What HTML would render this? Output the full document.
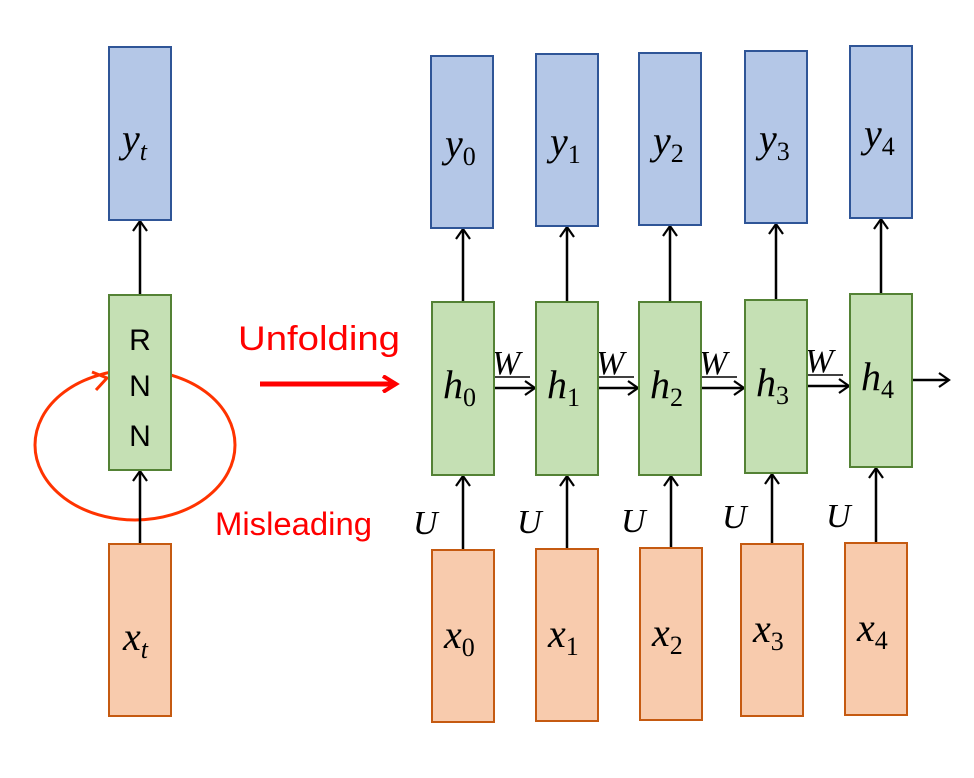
<!DOCTYPE html>
<html><head><meta charset="utf-8"><style>
html,body{margin:0;padding:0;background:#fff;}
svg{display:block;}
.m{font-family:"Liberation Serif",serif;font-style:italic;font-size:40px;fill:#000;}
.s{font-family:"Liberation Serif",serif;font-style:normal;font-size:26px;fill:#000;}
</style></head><body>
<svg width="974" height="778" viewBox="0 0 974 778">
<defs>
<marker id="ah" markerWidth="16" markerHeight="16" refX="11" refY="8" orient="auto" markerUnits="userSpaceOnUse">
<path d="M1,1 L11,8 L1,15" fill="none" stroke="#000" stroke-width="2.2"/></marker>
<marker id="ahr" markerWidth="18" markerHeight="18" refX="14" refY="9" orient="auto" markerUnits="userSpaceOnUse">
<path d="M1,1 L14,9 L1,17" fill="none" stroke="#ff0000" stroke-width="4"/></marker>
</defs>
<ellipse cx="135" cy="445" rx="100" ry="75" fill="none" stroke="#ff3300" stroke-width="3"/>
<path d="M92,372 L107,378 L96,390" fill="none" stroke="#ff3300" stroke-width="3"/>
<line x1="140" y1="295" x2="140" y2="221" stroke="#000" stroke-width="2.5" marker-end="url(#ah)"/>
<line x1="140" y1="544" x2="140" y2="471" stroke="#000" stroke-width="2.5" marker-end="url(#ah)"/>
<rect x="109" y="47" width="62" height="173" fill="#b4c7e7" stroke="#2f5597" stroke-width="2"/>
<text x="122" y="152" class="m">y<tspan class="s" dy="8" style="font-style:italic">t</tspan></text>
<rect x="109" y="295" width="62" height="175" fill="#c5e0b4" stroke="#548235" stroke-width="2"/>
<text x="140" y="350" text-anchor="middle" font-family="Liberation Sans,sans-serif" font-size="30">R</text>
<text x="140" y="396" text-anchor="middle" font-family="Liberation Sans,sans-serif" font-size="30">N</text>
<text x="140" y="446" text-anchor="middle" font-family="Liberation Sans,sans-serif" font-size="30">N</text>
<rect x="109" y="544" width="62" height="172" fill="#f8cbad" stroke="#c55a11" stroke-width="2"/>
<text x="123" y="650" class="m">x<tspan class="s" dy="8" style="font-style:italic">t</tspan></text>
<text x="238" y="350" fill="#ff0000" font-family="Liberation Sans,sans-serif" font-size="34" textLength="162" lengthAdjust="spacingAndGlyphs">Unfolding</text>
<line x1="260" y1="384" x2="396" y2="384" stroke="#ff0000" stroke-width="5" marker-end="url(#ahr)"/>
<text x="215" y="535" fill="#ff0000" font-family="Liberation Sans,sans-serif" font-size="32" textLength="157" lengthAdjust="spacingAndGlyphs">Misleading</text>
<g id="unrolled"></g>
</svg>
<script>
const steps=[0,1,2,3,4];
const yBox=[[431,56],[536,54],[639,53],[745,51],[850,46]];
const hBox=[[432,302],[536,302],[639,302],[745,300],[850,294]];
const xBox=[[432,550],[536,549],[640,548],[741,544],[845,543]];
const NS="http://www.w3.org/2000/svg";
const g=document.getElementById('unrolled');
function el(t,a){const e=document.createElementNS(NS,t);for(const k in a)e.setAttribute(k,a[k]);g.appendChild(e);return e;}
function label(x,y,v,i,name){
 const t=el('text',{x:x,y:y,class:'m'});
 
 
 t.textContent=v;
 const s=document.createElementNS(NS,'tspan');s.setAttribute('class','s');s.setAttribute('dy','8');s.textContent=i;t.appendChild(s);
}
steps.forEach(i=>{
 const [yx,yy]=yBox[i],[hx,hy]=hBox[i],[xx,xy]=xBox[i];
 const hc=hx+31, xc=xx+31;
 let a=el('line',{x1:hc,y1:hy,x2:hc,y2:yy+173,stroke:'#000','stroke-width':2.5,'marker-end':'url(#ah)'});
 
 
 a=el('line',{x1:xc,y1:xy,x2:xc,y2:hy+174,stroke:'#000','stroke-width':2.5,'marker-end':'url(#ah)'});
 
 
 const tu=el('text',{x:xc-50,y:xy-16,class:'m'});
 
 
 tu.style.fontSize='34px';tu.textContent='U';
 const nx=(i<4)?hBox[i+1][0]:950;
 a=el('line',{x1:hx+62,y1:hy+86,x2:nx-1,y2:hy+86,stroke:'#000','stroke-width':2.5,'marker-end':'url(#ah)'});
 
 
 if(i<4){
  const tw=el('text',{x:hx+60,y:hy+72,class:'m'});
  
  
  tw.style.fontSize='34px';tw.textContent='W';
  el('line',{x1:hx+63,y1:hy+75,x2:hx+98,y2:hy+75,stroke:'#000','stroke-width':1.5});
 }
 let r=el('rect',{x:yx,y:yy,width:62,height:172,fill:'#b4c7e7',stroke:'#2f5597','stroke-width':2});
 
 
 label(yx+14,yy+101,'y',i,'label-y'+i);
 r=el('rect',{x:hx,y:hy,width:62,height:173,fill:'#c5e0b4',stroke:'#548235','stroke-width':2});
 
 
 label(hx+11,hy+96,'h',i,'label-h'+i);
 r=el('rect',{x:xx,y:xy,width:62,height:172,fill:'#f8cbad',stroke:'#c55a11','stroke-width':2});
 
 
 label(xx+12,xy+98,'x',i,'label-x'+i);
});
</script>
</body></html>
